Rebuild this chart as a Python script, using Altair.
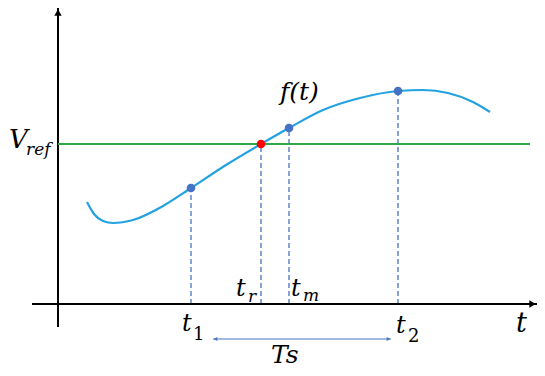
import altair as alt
import pandas as pd

# ---- data (arbitrary time / voltage units, origin at the axes crossing) ----
curve_t = [2.9, 3.6, 4.5, 5.5, 7.5, 10.5, 13.3, 16.8, 20.3, 23.1, 26.5, 30.2,
           34.0, 36.5, 39.0, 41.5, 43.2]
curve_v = [10.2, 9.0, 8.3, 8.1, 8.4, 9.8, 11.6, 13.9, 16.0, 17.6, 19.4, 20.6,
           21.3, 21.4, 21.1, 20.2, 19.2]

sample_names = ["t1", "tr", "tm", "t2"]
sample_t = [13.3, 20.3, 23.1, 34.0]
sample_v = [11.6, 16.0, 17.6, 21.3]
sample_color = ["#4472c4", "#ff0000", "#4472c4", "#4472c4"]

v_ref = 16.0
v_ref_t_end = 47.2

x_axis_t = [-2.6, 47.9]
y_axis_v = [-2.3, 29.6]

ts_t = [15.5, 33.3]
ts_v = -3.5

# labels: text, left t, baseline v, font size, italic?
lab_text = ["V", "ref", "f(t)", "t", "r", "t", "m", "t", "1", "t", "2", "t", "Ts"]
lab_t = [-4.9, -3.2, 22.2, 17.8, 19.0, 23.3, 24.5, 12.4, 13.5, 33.8, 35.0, 45.8, 21.3]
lab_v = [15.6, 14.9, 20.4, 0.8, 0.2, 0.8, 0.3, -2.7, -3.6, -2.9, -3.8, -2.8, -5.9]
lab_size = [26, 17, 25, 24, 17, 24, 17, 24, 18, 24, 18, 27, 25]
lab_italic = [True, True, True, True, True, True, True, True, False, True, False, True, True]

FONT = "DejaVu Serif"

# ---- scales ----
xs = alt.Scale(domain=[-5.0, 47.9], nice=False, zero=False)
ys = alt.Scale(domain=[-6.4, 29.6], nice=False, zero=False)
X = lambda f: alt.X(f, type="quantitative", scale=xs, axis=None)
Y = lambda f: alt.Y(f, type="quantitative", scale=ys, axis=None)

curve_df = pd.DataFrame({"t": curve_t, "v": curve_v})
samp_df = pd.DataFrame({"name": sample_names, "t": sample_t, "v": sample_v,
                        "c": sample_color, "z": [0.0] * len(sample_t)})

axes_df = pd.DataFrame({
    "t": [x_axis_t[0], 0.0],
    "t2": [x_axis_t[1], 0.0],
    "v": [0.0, y_axis_v[0]],
    "v2": [0.0, y_axis_v[1]],
})
arrow_df = pd.DataFrame({
    "t": [x_axis_t[1] - 0.45, 0.0],
    "v": [0.0, y_axis_v[1] - 0.45],
    "shape": ["triangle-right", "triangle-up"],
})

vref_df = pd.DataFrame({"t": [0.0], "t2": [v_ref_t_end], "v": [v_ref]})
ts_df = pd.DataFrame({"t": [ts_t[0]], "t2": [ts_t[1]], "v": [ts_v]})
ts_head_df = pd.DataFrame({"t": [ts_t[0] + 0.25, ts_t[1] - 0.25], "v": [ts_v, ts_v],
                           "shape": ["triangle-left", "triangle-right"]})

# ---- layers ----
axes = alt.Chart(axes_df).mark_rule(color="black", strokeWidth=2).encode(
    x=X("t"), x2="t2", y=Y("v"), y2="v2")
arrows = alt.Chart(arrow_df).mark_point(filled=True, color="black", opacity=1, size=55).encode(
    x=X("t"), y=Y("v"), shape=alt.Shape("shape:N", scale=None))

dashes = alt.Chart(samp_df).mark_rule(color="#4472c4", strokeWidth=1.3, strokeDash=[5, 3]).encode(
    x=X("t"), y=Y("z"), y2="v")

vref = alt.Chart(vref_df).mark_rule(color="#2ca84a", strokeWidth=2.2).encode(
    x=X("t"), x2="t2", y=Y("v"))

curve = alt.Chart(curve_df).mark_line(color="#22a2e0", strokeWidth=2.2, interpolate="monotone").encode(
    x=X("t"), y=Y("v"), order="t:Q")

points = alt.Chart(samp_df).mark_circle(size=75, opacity=1).encode(
    x=X("t"), y=Y("v"), color=alt.Color("c:N", scale=None))

ts_line = alt.Chart(ts_df).mark_rule(color="#4472c4", strokeWidth=1).encode(
    x=X("t"), x2="t2", y=Y("v"))
ts_heads = alt.Chart(ts_head_df).mark_point(filled=True, color="#4472c4", opacity=1, size=18).encode(
    x=X("t"), y=Y("v"), shape=alt.Shape("shape:N", scale=None))

labels = []
for txt, t, v, s, it in zip(lab_text, lab_t, lab_v, lab_size, lab_italic):
    d = pd.DataFrame({"text": [txt], "t": [t], "v": [v]})
    kw = dict(font=FONT, fontSize=s, align="left", baseline="alphabetic", color="black")
    if it:
        kw["fontStyle"] = "italic"
    labels.append(alt.Chart(d).mark_text(**kw).encode(x=X("t"), y=Y("v"), text="text:N"))

chart = alt.layer(
    dashes, axes, arrows, vref, curve, points, ts_line, ts_heads, *labels
).properties(
    width=529, height=360, padding=0, autosize=alt.AutoSizeParams(type="none"),
    background="white"
).configure_view(stroke=None)

chart.save("out.html", embed_options={"renderer": "svg", "actions": False})
